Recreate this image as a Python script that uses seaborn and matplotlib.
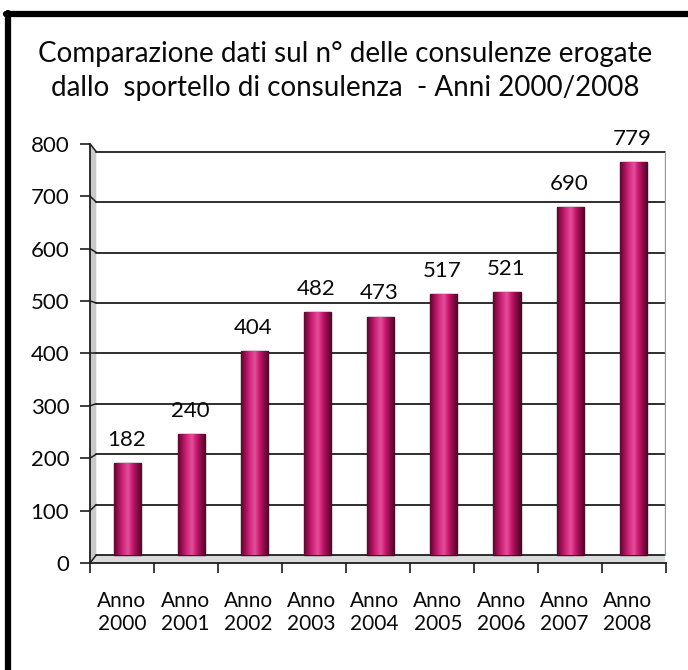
import numpy as np
import matplotlib
matplotlib.use("Agg")
import matplotlib.pyplot as plt
from matplotlib.colors import LinearSegmentedColormap
from matplotlib.lines import Line2D
import matplotlib.transforms as mtransforms
import seaborn as sns
import pandas as pd

# data
anni = ["Anno\n2000", "Anno\n2001", "Anno\n2002", "Anno\n2003", "Anno\n2004",
        "Anno\n2005", "Anno\n2006", "Anno\n2007", "Anno\n2008"]
consulenze = [182, 240, 404, 482, 473, 517, 521, 690, 779]
yticks = [0, 100, 200, 300, 400, 500, 600, 700, 800]
titolo = "Comparazione dati sul n° delle consulenze erogate\ndallo  sportello di consulenza  - Anni 2000/2008"

sns.set_style("white")
plt.rcParams["font.family"] = ["Lato", "DejaVu Sans"]

df = pd.DataFrame({"anno": anni, "n": consulenze})

fig = plt.figure(figsize=(6.88, 6.70), dpi=100)
fig.patch.set_facecolor("white")
ax = fig.add_axes([0.1308, 0.1597, 0.8366, 0.6258])

sns.barplot(data=df, x="anno", y="n", order=anni, color="#c0156b",
            width=0.43, edgecolor="#4a0722", linewidth=1.0, ax=ax, zorder=3)

# cylinder-ish shading on each bar
cmap = LinearSegmentedColormap.from_list(
    "cyl", ["#5a0a2e", "#a8105a", "#d42a80", "#e2509a", "#c8176e", "#8a0c46", "#4e0827"])
grad = np.linspace(0, 1, 64).reshape(1, -1)
for p in ax.patches:
    x0, w, h = p.get_x(), p.get_width(), p.get_height()
    im = ax.imshow(grad, extent=[x0, x0 + w, 0, h], cmap=cmap, aspect="auto",
                   zorder=3.5, interpolation="bilinear")
    im.set_clip_path(p)

x_left, x_right = -0.6, 8.5
y_bot, y_top = -16, 816
ax.set_xlim(x_left, x_right)
ax.set_ylim(y_bot, y_top)

# floor and left wall (fake 3d)
ax.fill([x_left, -0.5, x_right, x_right, x_left], [y_bot, 0, 0, y_bot, y_bot],
        color="#d9dadc", zorder=1, lw=0)
ax.fill([x_left, -0.5, -0.5, x_left], [y_bot, 0, 800, y_top],
        color="#c9c9c9", zorder=1, lw=0)

# gridlines on the back wall, joined to the front ticks
for v in yticks:
    ax.plot([-0.5, x_right], [v, v], color="#1e1e1e", lw=1.3, zorder=2)
    ax.plot([x_left, -0.5], [1.04 * v - 16, v], color="#1e1e1e", lw=1.1, zorder=2)
ax.plot([x_right, x_right], [0, 800], color="#9a9a9a", lw=1.0, zorder=2)

for s in ["top", "right"]:
    ax.spines[s].set_visible(False)
ax.spines["left"].set_color("#1e1e1e")
ax.spines["bottom"].set_color("#1e1e1e")
ax.spines["left"].set_linewidth(1.3)
ax.spines["bottom"].set_linewidth(1.3)

ax.set_yticks([1.04 * v - 16 for v in yticks])
ax.set_yticklabels([str(v) for v in yticks])
ax.tick_params(axis="y", length=7, width=1.2, color="#1e1e1e", labelsize=16, pad=8,
               left=True, labelcolor="#0a0a0a")

ax.set_xticks(range(len(anni)))
ax.set_xticklabels(anni, linespacing=1.2)
ax.tick_params(axis="x", length=0, labelsize=15, pad=20, labelcolor="#0a0a0a")
shift = mtransforms.ScaledTranslation(-6 / 100, 0, fig.dpi_scale_trans)
for lab in ax.get_xticklabels():
    lab.set_transform(lab.get_transform() + shift)
ax.set_xticks([k * 1.012 + x_left for k in range(len(anni) + 1)], minor=True)
ax.tick_params(axis="x", which="minor", length=7, width=1.2, color="#1e1e1e",
               bottom=True, direction="out")
ax.set_xlabel("")
ax.set_ylabel("")

# value labels
for i, v in enumerate(consulenze):
    ax.text(i - 0.02, v + 26, str(v), ha="center", va="bottom", fontsize=16,
            color="#0a0a0a", clip_on=False)

fig.text(0.502, 0.894, titolo, ha="center", va="center", fontsize=20,
         color="#0a0a0a", linespacing=1.4)

# outer frame (top and left thick lines)
fig.add_artist(Line2D([0.008, 1.0], [0.979, 0.979], color="black", lw=4.5))
fig.add_artist(Line2D([0.011, 0.011], [0.0, 0.981], color="black", lw=4.5))

fig.savefig("out.png", dpi=100)
